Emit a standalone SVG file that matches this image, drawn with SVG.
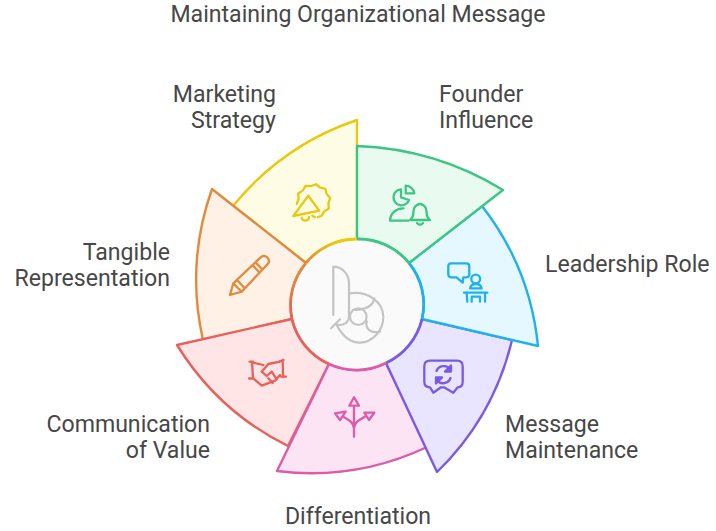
<svg xmlns="http://www.w3.org/2000/svg" width="716" height="531" viewBox="0 0 716 531">
<style>
text{font-family:Roboto,"Liberation Sans",sans-serif;font-size:23.100px;fill:#474747}
.s{stroke-width:2.400;stroke-linejoin:round;stroke-linecap:round}
.i{fill:none;stroke-width:2.300;stroke-linejoin:round;stroke-linecap:round}
.ar{fill:none;stroke-width:2.800}
.y{stroke:#e8c90f}.g{stroke:#3cc583}.b{stroke:#1fb1e9}.p{stroke:#7a5be0}.k{stroke:#dd5ca9}.r{stroke:#e8605c}.o{stroke:#df8a3d}
</style>
<defs>
<linearGradient id="gy" gradientUnits="userSpaceOnUse" x1="306" y1="263" x2="335" y2="243"><stop offset="0" stop-color="#df8a3d"/><stop offset="1" stop-color="#e8c90f"/></linearGradient>
<linearGradient id="go" gradientUnits="userSpaceOnUse" x1="300" y1="275" x2="294" y2="322"><stop offset="0" stop-color="#df8a3d"/><stop offset="1" stop-color="#e8605c"/></linearGradient>
</defs>
<g id="title"><text x="358" y="22" text-anchor="middle">Maintaining Organizational Message</text></g>
<g id="connectors"></g>
<g id="node-marketing">
<path class="s y" fill="#fffce6" d="M233 206A272 272 0 0 1 357 120V239A65.500 65.500 0 0 0 306 263Z"/>
<g class="i y"><path d="M296.800 204L298.600 199 298.200 193.500 302.700 190.600 305.500 186 310.900 186.200 315.900 184.200 320.100 187.500 325.300 188.800 326.700 194 330.200 198 328.400 203.100 328.800 208.500 324.300 211.400 321.500 216 318 217"/><path d="M308.300 195.700L319.300 210.700 293.300 216zM301.700 217.700a3.700 3.700 0 0 0 7.300-.700M312.300 215.700l2.500 1.500"/></g>
<text x="276" y="101.500" text-anchor="end">Marketing</text><text x="276" y="127.500" text-anchor="end">Strategy</text>
</g>
<g id="node-tangible">
<path class="s o" fill="#fff1e5" d="M203 340A272 272 0 0 1 212 189L306 263A65.500 65.500 0 0 0 292 319Z"/>
<g class="i o"><path d="M230 295l3.300-11.700 27.400-26a4.500 4.500 0 0 1 6.300 0l.7.700a4.500 4.500 0 0 1 0 6l-26 27.700zM233.300 283.300l8.400 8.400M237 280l7.500 8M256 262.700l6 6.600M253 265.500l6 6.500"/></g>
<text x="170" y="259.500" text-anchor="end">Tangible</text><text x="170" y="285.500" text-anchor="end">Representation</text>
</g>
<g id="node-communication">
<path class="s r" fill="#ffe5e5" d="M288 446A272 272 0 0 1 177 345L292 319A65.500 65.500 0 0 0 329 364Z"/>
<g class="i r"><path d="M249.500 361.700H253M252 361.700L253 378M249 378.500H253.500M253.300 362.700L263.300 365M253.300 378.300L261.700 385.700 275 380.700 280 375M283.500 360L280 361.200M282.700 360L283 377M281 376.700H286M280 361.700L268.300 364 261.700 371.700 266.700 376 271.700 371.700 276.700 379.300M268.300 378.300L272.700 383"/></g>
<text x="210" y="431.500" text-anchor="end">Communication</text><text x="210" y="457.500" text-anchor="end">of Value</text>
</g>
<g id="node-differentiation">
<path class="s k" fill="#fde4f5" d="M427 447A272 272 0 0 1 277 471L329 364A65.500 65.500 0 0 0 386 363Z"/>
<g class="i k"><path d="M354 397.300L349.300 405.700H359zM354 405.700V436.700M354 428c-1-6-4-7-10.700-11.300M354 428c1-6 4-7 10.700-11.300M335 413.300L345.700 411.700 340 420zM374.300 412.700H364.300L369 420z"/></g>
<text x="358" y="523.500" text-anchor="middle">Differentiation</text>
</g>
<g id="node-message">
<path class="s p" fill="#e9e4ff" d="M512 340A272 272 0 0 1 437 472L386 363A65.500 65.500 0 0 0 422 319Z"/>
<g class="i p"><path d="M430 360.700H457q5.700 0 5.700 5.700V381.500q0 5.800-5 5.800L453.300 392.700 444 387.300H441L433.300 392.700 430 387.300q-5.700 0-5.700-5.800V366.400q0-5.700 5.700-5.700z"/><path d="M436.500 371a8 8 0 0 1 13.500-2M450.500 378a8 8 0 0 1-13.500 2.500"/><path d="M451 365.500v6h-6zM436 383.500v-6h6z" fill="#7a5be0"/></g>
<text x="505" y="431.500">Message</text><text x="505" y="457.500">Maintenance</text>
</g>
<g id="node-leadership">
<path class="s b" fill="#e5f8ff" d="M482 206A272 272 0 0 1 538 346L422 319A65.500 65.500 0 0 0 409 263Z"/>
<g class="i b"><path d="M451.300 263.300H466.300q3 0 3 3V274.300q0 3-3 3H463.300L462.700 282.700 456.500 277.300H451.300q-3 0-3-3V266.300q0-3 3-3z"/><circle cx="475.700" cy="279" r="4.400"/><path d="M470 288.300a6 5.500 0 0 1 11.700 0zM464 292.700H487.300M466.700 293L467.300 301.700M485 293V301.700M471.700 301.700V296.700H480V301.700"/></g>
<text x="545" y="272">Leadership Role</text>
</g>
<g id="node-founder">
<path class="s g" fill="#e9faf1" d="M357 146A300 300 0 0 1 503 190L409 263A65.500 65.500 0 0 0 357 239Z"/>
<g class="i g"><path d="M401 189.300a8 8 0 1 0 8 10.700l-8-2.700z"/><path d="M405.700 185.700V193.300H414.300a9 9 0 0 0-8.600-7.600z"/><path d="M408.300 220.700H390a13 13 0 0 1 13.500-12.400"/><path d="M410 220c3-2 3.500-4 3.500-8.500a6.500 7.500 0 0 1 13 0c0 4.500.5 6.500 3.500 8.500zM417 223a3.500 3.500 0 0 0 6 0"/></g>
<text x="439" y="101.500">Founder</text><text x="439" y="127.500">Influence</text>
</g>
<g id="node-center">
<circle cx="357" cy="304.500" r="65.500" fill="#fafafa"/>
<path class="ar" stroke="url(#gy)" d="M306 263A65.500 65.500 0 0 1 357 239"/>
<path class="ar" stroke="url(#go)" d="M306 263A65.500 65.500 0 0 0 292 319"/>
<path class="ar r" d="M292 319A65.500 65.500 0 0 0 329 364"/>
<path class="ar k" d="M329 364A65.500 65.500 0 0 0 386 363"/>
<path class="ar p" d="M386 363A65.500 65.500 0 0 0 422 319"/>
<path class="ar b" d="M422 319A65.500 65.500 0 0 0 409 263"/>
<path class="ar g" d="M409 263A65.500 65.500 0 0 0 357 239"/>
<g fill="none" stroke="#c4c4c4" stroke-width="2.200" stroke-linecap="round"><path d="M333.300 266.700V315M331 328.300L340 319.300M333.300 266.700C343 266.700 349 275 349 283.300V316.700C349 322 344 325 340 325 338 325 337 324.500 336 323.500"/><circle cx="358.300" cy="316.700" r="8.300"/><path d="M350 293.300C368 291 383.300 302 383.300 317 383.300 331 372 342.700 360 342.700 350 342.700 342 335 336.700 325"/><path d="M374.300 298.300C373 306 366 310 353 310M366.700 321C365 328 370 334 380 331.500"/></g>
</g>
</svg>
